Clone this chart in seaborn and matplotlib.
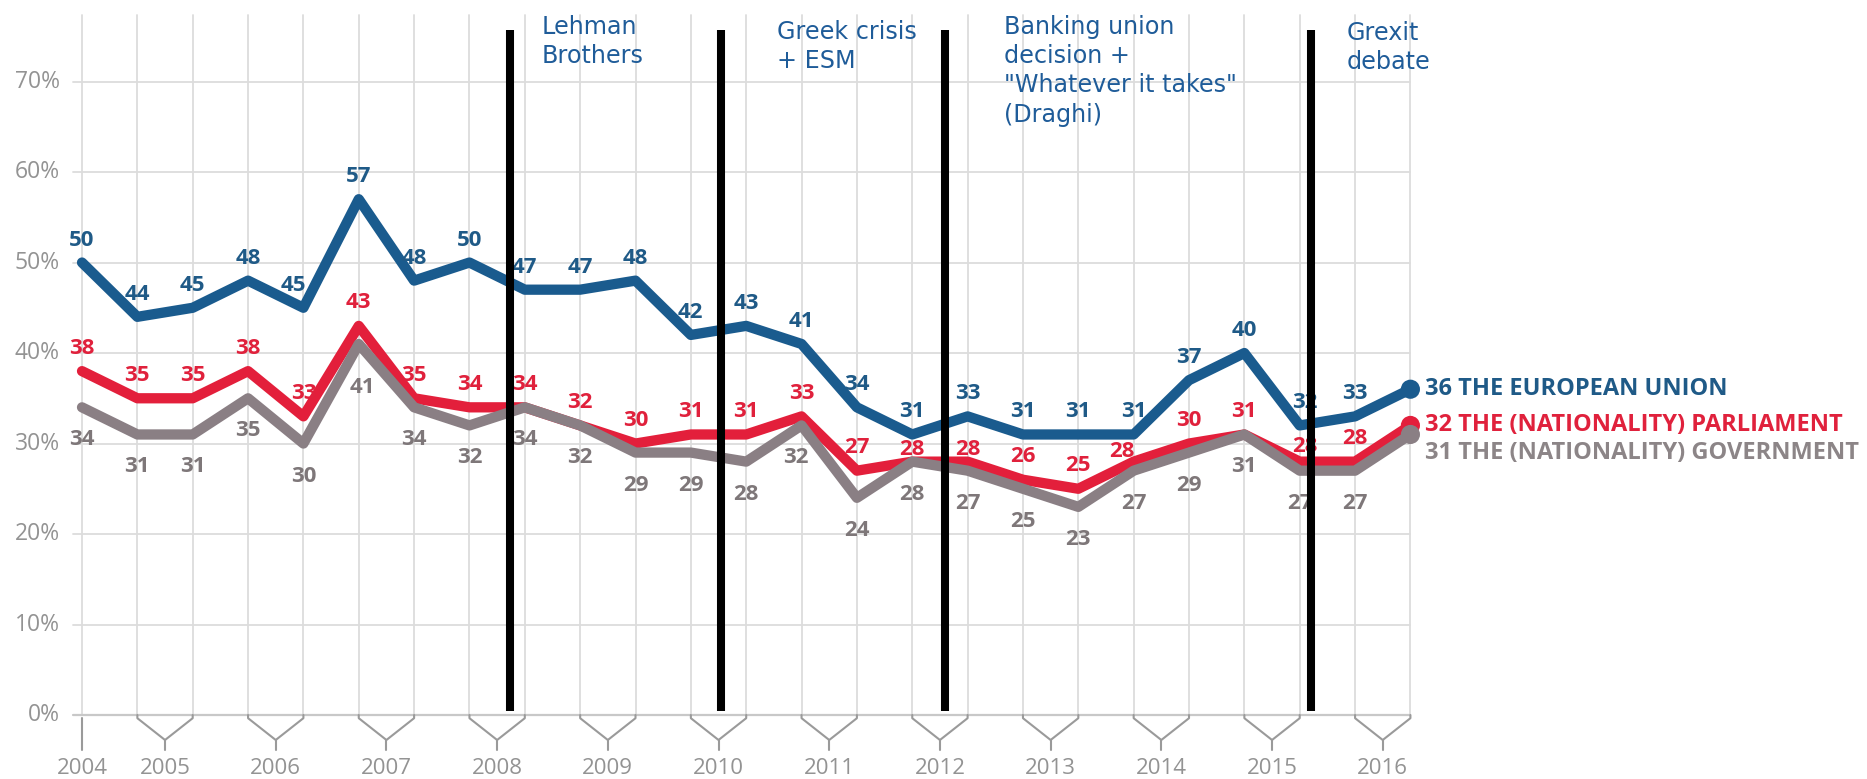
import matplotlib
matplotlib.use("Agg")
import matplotlib.pyplot as plt
import pandas as pd
import seaborn as sns

# ---- data -----------------------------------------------------------------
waves = list(range(25))
eu_trust = [50, 44, 45, 48, 45, 57, 48, 50, 47, 47, 48, 42, 43, 41, 34, 31, 33,
            31, 31, 31, 37, 40, 32, 33, 36]
parliament_trust = [38, 35, 35, 38, 33, 43, 35, 34, 34, 32, 30, 31, 31, 33, 27,
                    28, 28, 26, 25, 28, 30, 31, 28, 28, 32]
government_trust = [34, 31, 31, 35, 30, 41, 34, 32, 34, 32, 29, 29, 28, 32, 24,
                    28, 27, 25, 23, 27, 29, 31, 27, 27, 31]
series_names = ["THE EUROPEAN UNION", "THE (NATIONALITY) PARLIAMENT",
                "THE (NATIONALITY) GOVERNMENT"]
years = list(range(2004, 2017))
y_ticks = [0, 10, 20, 30, 40, 50, 60, 70]
event_labels = ["Lehman\nBrothers", "Greek crisis\n+ ESM",
                'Banking union\ndecision +\n"Whatever it takes"\n(Draghi)',
                "Grexit\ndebate"]
event_waves = [7.73, 11.54, 15.59, 22.2]

# ---- styling --------------------------------------------------------------
sns.set_theme(style="white")
plt.rcParams["font.family"] = ["Open Sans", "DejaVu Sans"]

line_colors = ["#1A5B8E", "#E31F3B", "#8A7F84"]
label_colors = ["#1F5A87", "#E0213C", "#7E7779"]
end_colors = ["#1F5A87", "#E0213C", "#8C8587"]
grid_color = "#DCDCDC"
axis_text = "#939393"
event_color = "#1F5C99"

fig = plt.figure(figsize=(18.67, 7.79), dpi=100)
ax = fig.add_axes([0, 0, 1, 1])
ax.set_xlim(-1.4815, 32.249)
ax.set_ylim(-7.07, 79.01)
ax.axis("off")

top_grid = 77.3
# vertical grid at every survey wave
for w in waves:
    ax.plot([w, w], [0, top_grid], color=grid_color, lw=1.3, zorder=0)
# horizontal grid
for t in y_ticks[1:]:
    ax.plot([-0.16, waves[-1]], [t, t], color=grid_color, lw=1.3, zorder=0)
ax.plot([-0.16, waves[-1]], [0, 0], color="#C8C8C8", lw=1.6, zorder=0)
for t in y_ticks:
    ax.text(-0.4, t, f"{t}%", ha="right", va="center", fontsize=16.5,
            color=axis_text, family="Open Sans")

# year brackets under the axis
bracket_color = "#9A9A9A"
ax.plot([0, 0], [-0.35, -3.87], color=bracket_color, lw=1.5)
ax.text(0, -5.86, str(years[0]), ha="center", va="center", fontsize=16,
        color=axis_text)
for i, yr in enumerate(years[1:], start=1):
    left, right = 2 * i - 1, 2 * i
    mid = (left + right) / 2
    ax.plot([left, left, mid, right, right], [0, -0.35, -2.76, -0.35, 0],
            color=bracket_color, lw=1.5)
    ax.plot([mid, mid], [-2.76, -3.87], color=bracket_color, lw=1.5)
    ax.text(mid, -5.86, str(yr), ha="center", va="center", fontsize=16,
            color=axis_text)

# ---- lines ----------------------------------------------------------------
values = [eu_trust, parliament_trust, government_trust]
frames = [pd.DataFrame({"wave": waves, "trust": v, "institution": n})
          for v, n in zip(values, series_names)]
draw_order = [1, 2, 0]
for k in draw_order:
    sns.lineplot(data=frames[k], x="wave", y="trust", color=line_colors[k],
                 linewidth=7.4, ax=ax, legend=False, zorder=3 + k * 0.1,
                 solid_joinstyle="round", solid_capstyle="round")
    last = frames[k].iloc[[-1]]
    sns.scatterplot(data=last, x="wave", y="trust", color=line_colors[k],
                    s=190, edgecolor="none", ax=ax, legend=False,
                    zorder=3 + k * 0.1)
ax.set_xlim(-1.4815, 32.249)
ax.set_ylim(-7.07, 79.01)

# ---- value labels ---------------------------------------------------------
base_offsets = [(0, 22.5), (0, 23), (0, -32.5)]
special = {
    (0, 4): (-10, 22.5), (0, 22): (5, 23),
    (1, 15): (0, 12), (1, 16): (0, 12), (1, 19): (-12, 10), (1, 22): (5, 15),
    (2, 5): (4, -44), (2, 13): (-6, -32.5),
}
for k, vals in enumerate(values):
    for i, v in enumerate(vals[:-1]):
        dx, dy = special.get((k, i), base_offsets[k])
        ax.annotate(str(v), (waves[i], v), xytext=(dx, dy),
                    textcoords="offset pixels", ha="center", va="center",
                    fontsize=16, fontweight="bold", color=label_colors[k],
                    zorder=6)

# end labels
end_dy = [0, 0, -18.5]
for k, vals in enumerate(values):
    ax.annotate(f"{vals[-1]} {series_names[k]}", (waves[-1], vals[-1]),
                xytext=(14.6, end_dy[k]), textcoords="offset pixels",
                ha="left", va="center", fontsize=17, fontweight="bold",
                color=end_colors[k], zorder=6)

# ---- events ---------------------------------------------------------------
event_text_x = [8.31, 12.55, 16.66, 22.84]
event_text_top = [77.4, 76.8, 77.4, 76.7]
for w, label, tx, ty in zip(event_waves, event_labels, event_text_x,
                            event_text_top):
    ax.plot([w, w], [0.48, 75.7], color="black", lw=5.8, zorder=8,
            solid_capstyle="butt")
    ax.text(tx, ty, label, ha="left", va="top", fontsize=17.2,
            family="DejaVu Sans", color=event_color, linespacing=1.28,
            zorder=8)

fig.savefig("out.png", dpi=100)
